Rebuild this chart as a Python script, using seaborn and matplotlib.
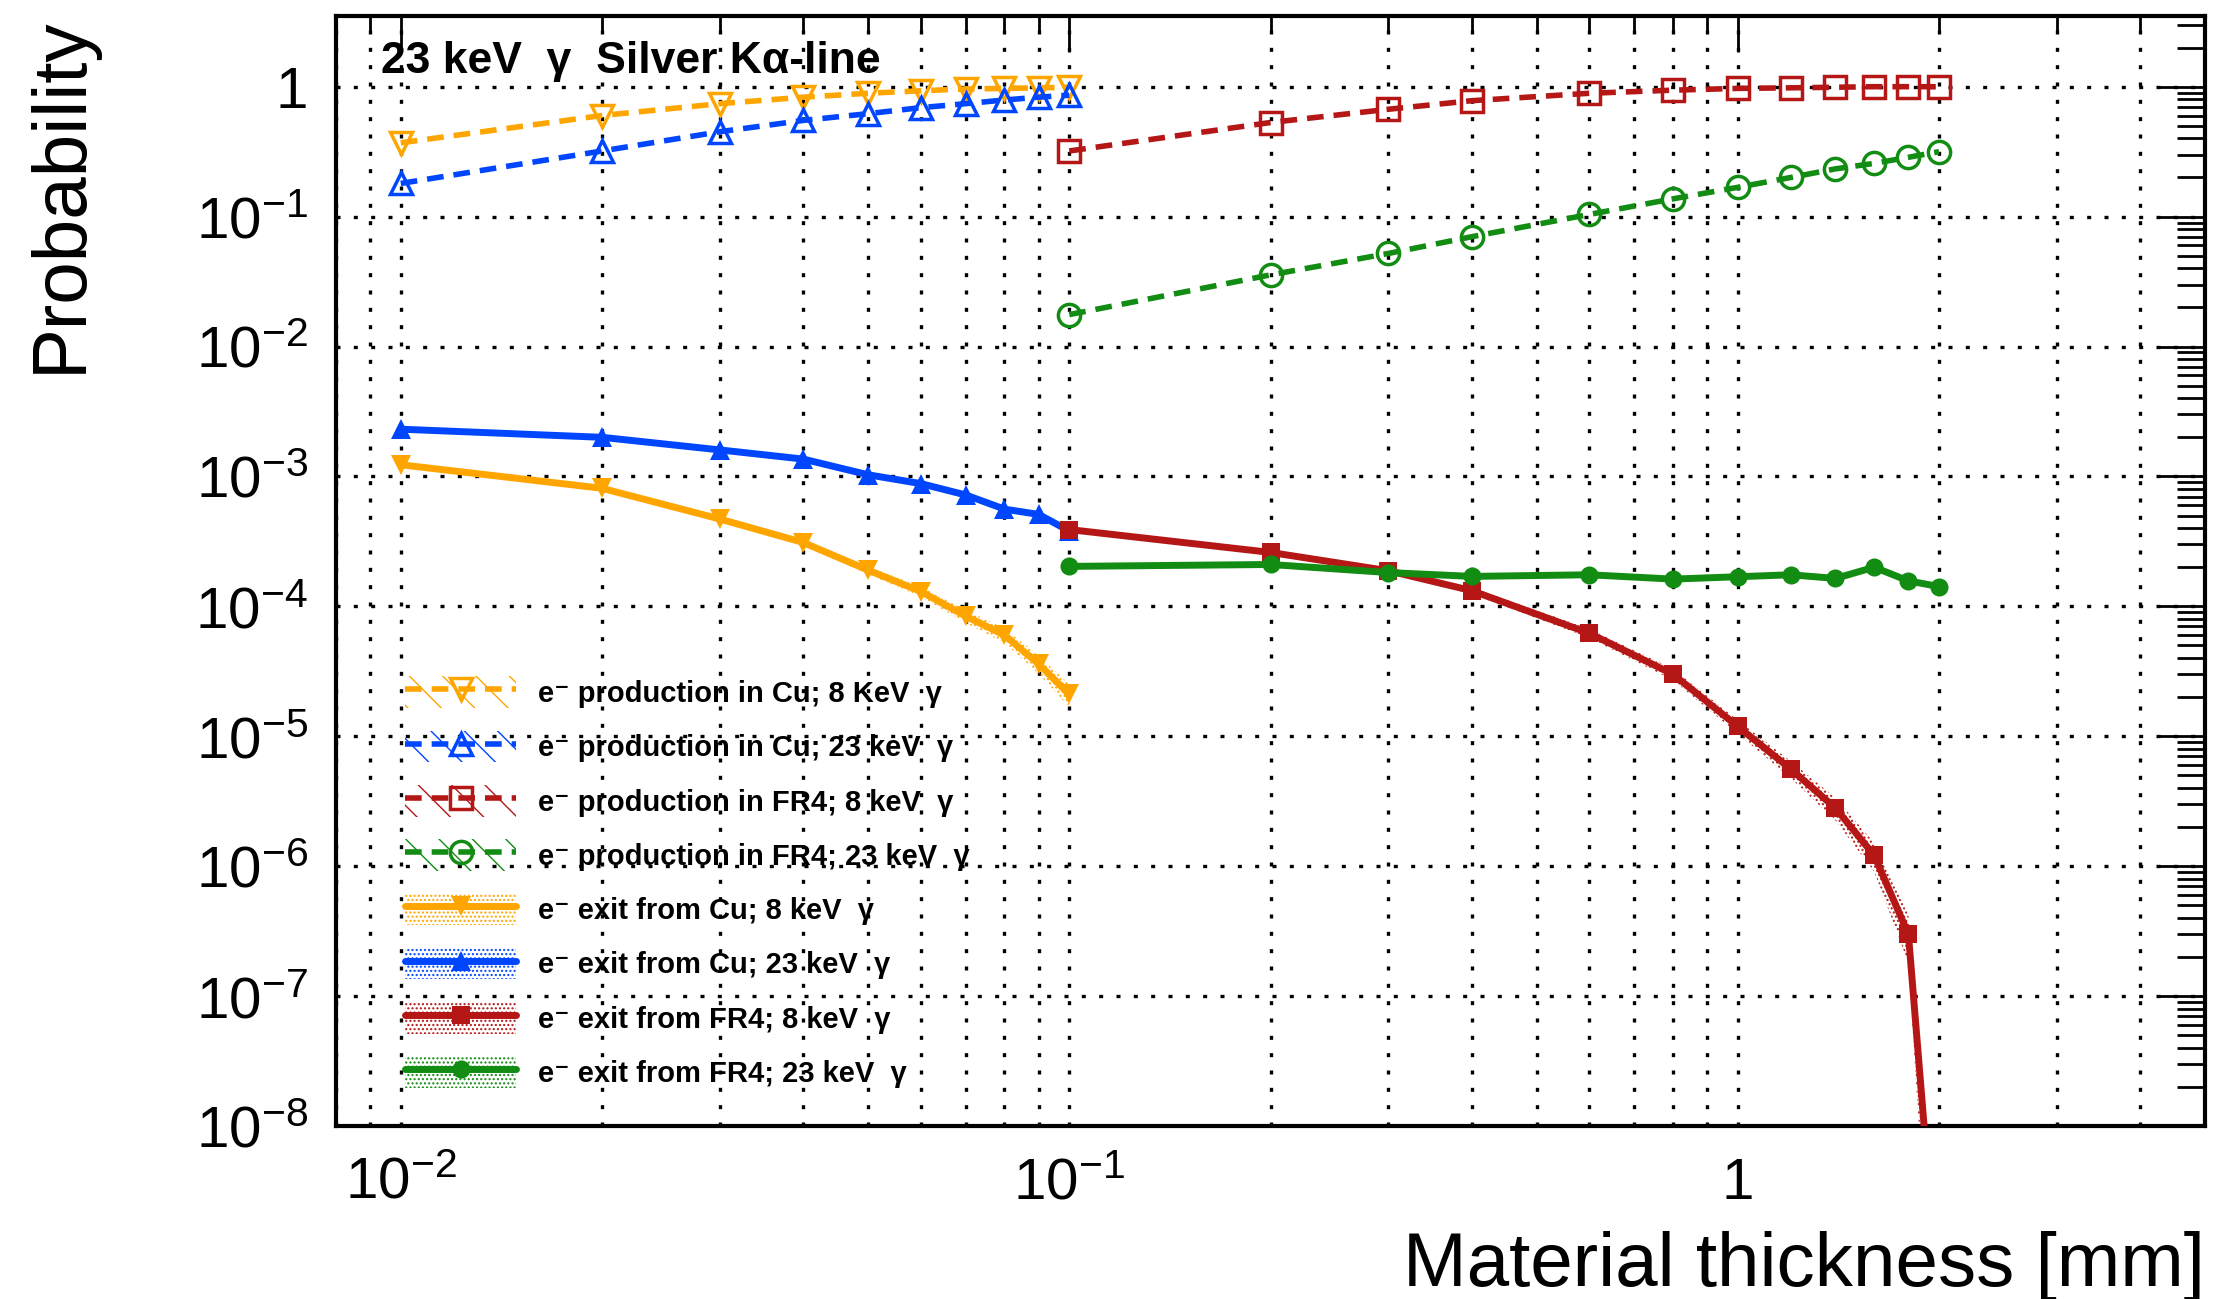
import numpy as np
import pandas as pd
import matplotlib
matplotlib.use("Agg")
import matplotlib.pyplot as plt
import seaborn as sns
from matplotlib.patches import Patch
from matplotlib.lines import Line2D
from matplotlib.ticker import LogLocator, NullFormatter

# ---------------- data ----------------
x_cu = [0.01, 0.02, 0.03, 0.04, 0.05, 0.06, 0.07, 0.08, 0.09, 0.1]
x_fr4 = [0.1, 0.2, 0.3, 0.4, 0.6, 0.8, 1.0, 1.2, 1.4, 1.6, 1.8, 2.0]

prod_cu_8 = [0.37, 0.60, 0.74, 0.83, 0.89, 0.93, 0.96, 0.97, 0.98, 0.99]
prod_cu_23 = [0.18, 0.32, 0.45, 0.55, 0.62, 0.69, 0.74, 0.79, 0.83, 0.86]
prod_fr4_8 = [0.32, 0.53, 0.67, 0.78, 0.89, 0.94, 0.97, 0.98, 0.99, 1.0, 1.0, 1.0]
prod_fr4_23 = [0.0176, 0.0356, 0.052, 0.070, 0.104, 0.137, 0.168, 0.20, 0.233, 0.257, 0.286, 0.316]

exit_cu_8 = [1.23e-3, 8.1e-4, 4.7e-4, 3.1e-4, 1.9e-4, 1.3e-4, 8.4e-5, 6.0e-5, 3.6e-5, 2.1e-5]
exit_cu_23 = [2.31e-3, 2.0e-3, 1.6e-3, 1.36e-3, 1.03e-3, 8.8e-4, 7.2e-4, 5.6e-4, 5.1e-4, 3.8e-4]
exit_fr4_8 = [3.9e-4, 2.6e-4, 1.88e-4, 1.32e-4, 6.2e-5, 3.0e-5, 1.19e-5, 5.6e-6, 2.8e-6, 1.21e-6, 3.0e-7, 4e-10]
exit_fr4_23 = [2.03e-4, 2.1e-4, 1.82e-4, 1.7e-4, 1.75e-4, 1.62e-4, 1.69e-4, 1.75e-4, 1.64e-4, 2.0e-4, 1.57e-4, 1.42e-4]

# relative uncertainties of the exit curves (error bands)
err_cu_8 = [0.02, 0.03, 0.04, 0.05, 0.07, 0.09, 0.11, 0.13, 0.16, 0.20]
err_cu_23 = [0.02, 0.02, 0.02, 0.02, 0.03, 0.03, 0.03, 0.04, 0.04, 0.05]
err_fr4_8 = [0.02, 0.03, 0.04, 0.06, 0.08, 0.10, 0.12, 0.15, 0.20, 0.25, 0.40, 0.90]
err_fr4_23 = [0.03, 0.03, 0.03, 0.03, 0.03, 0.03, 0.03, 0.03, 0.03, 0.03, 0.03, 0.03]

labels = [
    "e\u207b production in Cu; 8 KeV  \u03b3",
    "e\u207b production in Cu; 23 keV  \u03b3",
    "e\u207b production in FR4; 8 keV  \u03b3",
    "e\u207b production in FR4; 23 keV  \u03b3",
    "e\u207b exit from Cu; 8 keV  \u03b3",
    "e\u207b exit from Cu; 23 keV  \u03b3",
    "e\u207b exit from FR4; 8 keV  \u03b3",
    "e\u207b exit from FR4; 23 keV  \u03b3",
]
title_text = "23 keV  \u03b3  Silver K\u03b1-line"
xlabel_text = "Material thickness [mm]"
ylabel_text = "Probability"
xtick_vals = [0.01, 0.1, 1]
xtick_labels = [r"$10^{-2}$", r"$10^{-1}$", "1"]
ytick_vals = [1, 1e-1, 1e-2, 1e-3, 1e-4, 1e-5, 1e-6, 1e-7, 1e-8]
ytick_labels = ["1", r"$10^{-1}$", r"$10^{-2}$", r"$10^{-3}$", r"$10^{-4}$",
                r"$10^{-5}$", r"$10^{-6}$", r"$10^{-7}$", r"$10^{-8}$"]

# ---------------- style ----------------
sns.set_style("white")
plt.rcParams['font.family'] = ['Liberation Sans', 'DejaVu Sans']
plt.rcParams['mathtext.fontset'] = 'custom'
plt.rcParams['mathtext.rm'] = 'Liberation Sans'
plt.rcParams['mathtext.it'] = 'Liberation Sans:italic'
plt.rcParams['mathtext.bf'] = 'Liberation Sans:bold'
plt.rcParams['hatch.linewidth'] = 1.0
plt.rcParams['axes.unicode_minus'] = False
for k in ['text.color', 'axes.labelcolor', 'xtick.color', 'ytick.color', 'axes.edgecolor']:
    plt.rcParams[k] = 'black'

C_OR = '#FFA500'
C_BL = '#0046FF'
C_RD = '#B51616'
C_GR = '#128C12'
DASH = (0, (3.0, 1.8))

fig = plt.figure(figsize=(22.22, 12.99), dpi=100)
ax = fig.add_axes([336 / 2222, 1 - 1126 / 1299, (2205 - 336) / 2222, (1126 - 16) / 1299])

ax.set_xscale('log')
ax.set_yscale('log')
ax.set_xlim(0.008, 5.0)
ax.set_ylim(1e-8, 3.5)

# grid
grid_ls = (0, (1.2, 4))
ax.grid(True, which='major', axis='both', color='k', ls=grid_ls, lw=2.4, zorder=0)
ax.grid(True, which='minor', axis='x', color='k', ls=grid_ls, lw=2.4, zorder=0)
ax.set_axisbelow(True)

# error bands for exit curves
bands = [(x_cu, exit_cu_8, err_cu_8, C_OR), (x_cu, exit_cu_23, err_cu_23, C_BL),
         (x_fr4, exit_fr4_8, err_fr4_8, C_RD), (x_fr4, exit_fr4_23, err_fr4_23, C_GR)]
for xs, ys, es, c in bands:
    ys = np.array(ys); es = np.array(es)
    ax.fill_between(xs, ys * (1 - es), ys * (1 + es), facecolor='none',
                    edgecolor=c, hatch='....', linewidth=0, zorder=2)

# production curves (dashed, open markers)
prod = [(x_cu, prod_cu_8, C_OR, 'v'), (x_cu, prod_cu_23, C_BL, '^'),
        (x_fr4, prod_fr4_8, C_RD, 's'), (x_fr4, prod_fr4_23, C_GR, 'o')]
for xs, ys, c, m in prod:
    df = pd.DataFrame({'x': xs, 'y': ys})
    sns.lineplot(data=df, x='x', y='y', ax=ax, color=c, estimator=None, sort=False,
                 linestyle=DASH, linewidth=4, marker=m, markersize=16,
                 markerfacecolor='none', markeredgecolor=c, markeredgewidth=2.5, zorder=4)

# exit curves (solid, filled markers)
ex = [(x_cu, exit_cu_8, C_OR, 'v', 14), (x_cu, exit_cu_23, C_BL, '^', 14),
      (x_fr4, exit_fr4_8, C_RD, 's', 13), (x_fr4, exit_fr4_23, C_GR, 'o', 13)]
for xs, ys, c, m, ms in ex:
    df = pd.DataFrame({'x': xs, 'y': ys})
    sns.lineplot(data=df, x='x', y='y', ax=ax, color=c, estimator=None, sort=False,
                 linestyle='-', linewidth=5, marker=m, markersize=ms,
                 markerfacecolor=c, markeredgecolor=c, markeredgewidth=0, zorder=5)

# ticks
ax.set_xticks(xtick_vals)
ax.set_xticklabels(xtick_labels)
ax.xaxis.set_minor_locator(LogLocator(base=10, subs=np.arange(2, 10), numticks=20))
ax.xaxis.set_minor_formatter(NullFormatter())
ax.set_yticks(ytick_vals)
ax.set_yticklabels(ytick_labels)
ax.yaxis.set_minor_locator(LogLocator(base=10, subs=np.arange(2, 10), numticks=30))
ax.yaxis.set_minor_formatter(NullFormatter())
ax.set_xlim(0.008, 5.0)
ax.set_ylim(1e-8, 3.5)

ax.tick_params(which='both', direction='in', top=True, right=True, colors='k')
ax.tick_params(axis='x', which='major', length=26, width=2, labelsize=42, pad=22)
ax.tick_params(axis='x', which='minor', length=12, width=2)
ax.tick_params(axis='y', which='major', length=34, width=2, labelsize=42, pad=20)
ax.tick_params(axis='y', which='minor', length=20, width=2)

for s in ax.spines.values():
    s.set_linewidth(3)
    s.set_color('k')

# labels
ax.set_xlabel(xlabel_text, fontsize=55, loc='right')
ax.xaxis.set_label_coords(1.0, -0.095)
ax.xaxis.label.set_va('top')
ax.set_ylabel(ylabel_text, fontsize=55, loc='top')
ax.yaxis.set_label_coords(-0.128, 1.0)

ax.text(0.024, 0.949, title_text, transform=ax.transAxes, fontsize=32,
        fontweight='bold', va='baseline', ha='left', zorder=6)

# legend
handles = []
for xs, ys, c, m in prod:
    handles.append((Patch(facecolor='none', edgecolor=c, hatch='\\', linewidth=0),
                    Line2D([], [], color=c, ls=DASH, lw=4, marker=m, markersize=16,
                           markerfacecolor='none', markeredgecolor=c, markeredgewidth=2.5)))
for xs, ys, c, m, ms in ex:
    handles.append((Patch(facecolor='none', edgecolor=c, hatch='....', linewidth=0),
                    Line2D([], [], color=c, ls='-', lw=5, marker=m, markersize=ms,
                           markerfacecolor=c, markeredgecolor=c, markeredgewidth=0)))
leg = ax.legend(handles, labels, loc='upper left', bbox_to_anchor=(0.037, 0.405),
                frameon=False, borderaxespad=0, borderpad=0,
                prop={'weight': 'bold', 'size': 21, 'family': ['Liberation Sans', 'DejaVu Sans']},
                handlelength=3.8, handleheight=1.3, labelspacing=0.77, handletextpad=0.75)

fig.savefig("out.png", dpi=100)
